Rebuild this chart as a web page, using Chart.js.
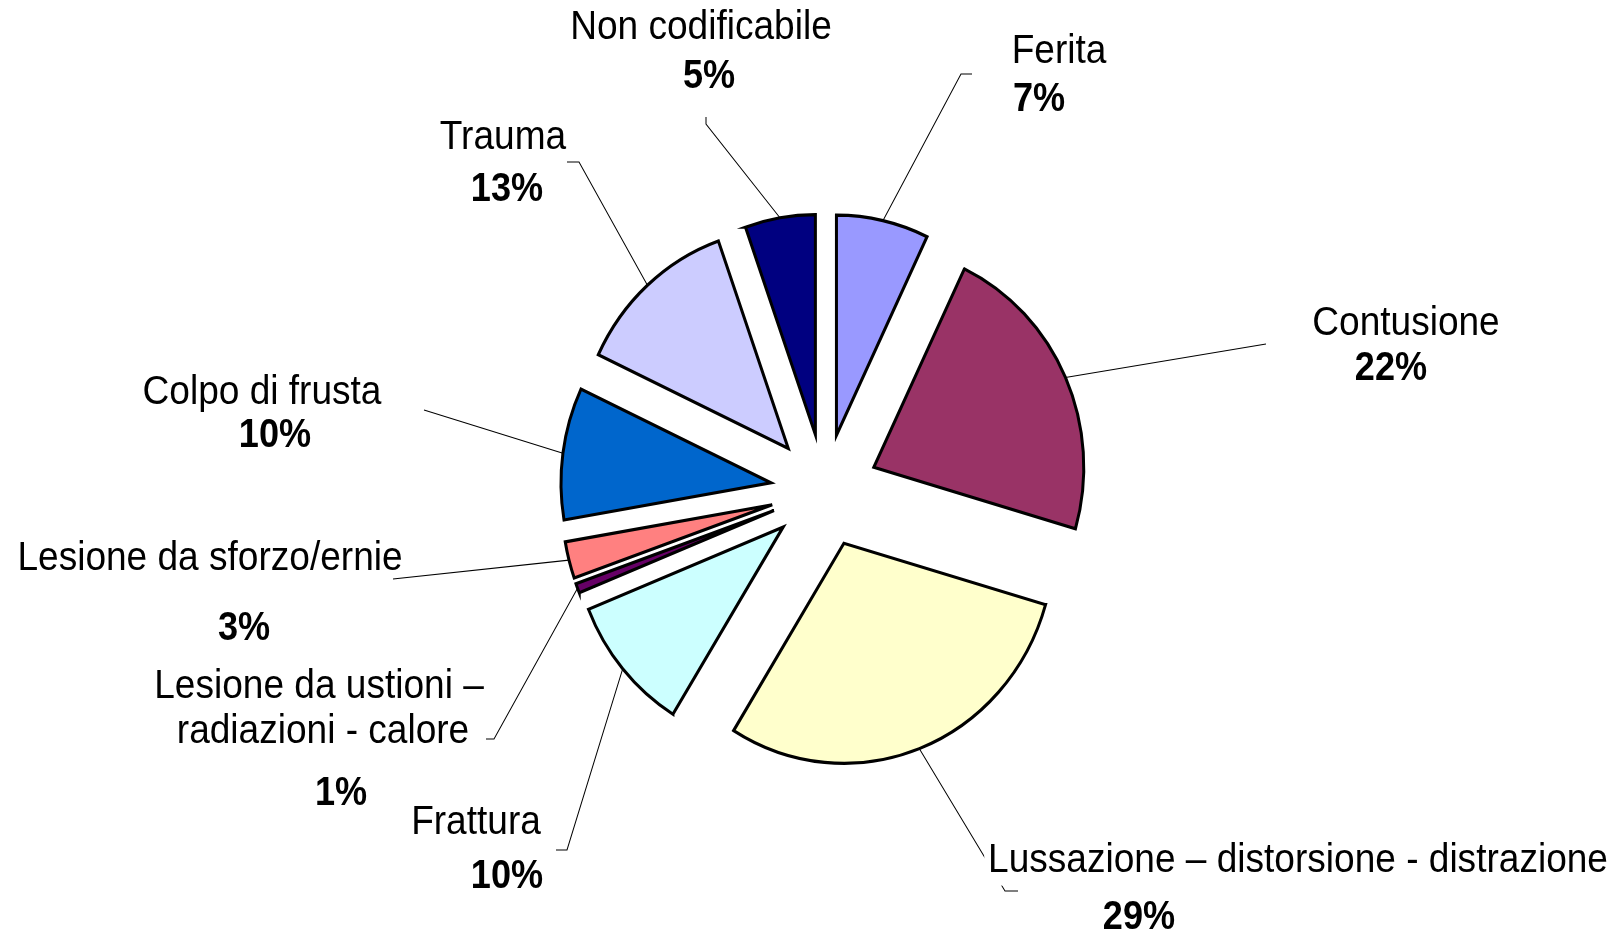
<!DOCTYPE html>
<html lang="it">
<head>
<meta charset="utf-8">
<title>Tipologia di lesione</title>
<script src="https://cdn.jsdelivr.net/npm/chart.js@4.4.1/dist/chart.umd.min.js"></script>
<style>
  html, body { margin: 0; padding: 0; background: #fff; }
  #wrap { width: 1621px; height: 933px; }
  canvas { display: block; }
</style>
</head>
<body>
<div id="wrap"><canvas id="pie" width="1621" height="933"></canvas></div>
<script>
// Slices clockwise from 12 o'clock, as in the original sheet.
const CATEGORIES = [
  "Ferita",
  "Contusione",
  "Lussazione – distorsione - distrazione",
  "Frattura",
  ["Lesione da ustioni –", "radiazioni - calore"],
  "Lesione da sforzo/ernie",
  "Colpo di frusta",
  "Trauma",
  "Non codificabile",
];
// shares; the labels show them rounded
const SHARES = [7.1, 22.4, 29.3, 10.1, 0.7, 2.7, 9.7, 12.6, 5.4];
const COLORS = ["#9999FF", "#993366", "#FFFFCC", "#CCFFFF", "#660066", "#FF8080", "#0066CC", "#CCCCFF", "#000080"];

// The source picture is stretched a bit vertically, text a bit narrow.
const STRETCH = 1.048;
const TEXT_SQUEEZE = 0.95;
const RADIUS = 210;
const EXPLODE = 54;
const FONT = '"Liberation Sans", Arial, sans-serif';
const NAME_SIZE = 39;
const PCT_SIZE = 38;

// Where each label sits (screen px): name line centres, percent centre,
// leader bends after the point on the slice edge.
const LABEL_LAYOUT = [
  { name: [[1059, 48]], pct: [1039, 97], leader: [[961, 74], [972, 74]] },
  { name: [[1406, 320]], pct: [1391, 366], leader: [[1266, 344]] },
  { name: [[1298, 857]], pct: [1139, 915], leader: [[1005, 891], [1018, 891]], mask: true },
  { name: [[476, 819]], pct: [507, 874], leader: [[567, 850], [556, 850]] },
  { name: [[319, 683], [323, 728]], pct: [341, 791], leader: [[494, 739], [486, 739]] },
  { name: [[210, 555]], pct: [244, 626], leader: [[393, 579]] },
  { name: [[262, 389]], pct: [275, 433], leader: [[424, 410]] },
  { name: [[503, 134]], pct: [507, 187], leader: [[579, 162], [567, 162]] },
  { name: [[701, 24]], pct: [709, 74], leader: [[706, 124], [706, 117]] },
];

const stretch = {
  id: "stretch",
  beforeDraw(chart) { chart.ctx.save(); chart.ctx.scale(1, STRETCH); },
  afterDraw(chart) { chart.ctx.restore(); },
};

// push every slice out along its own middle angle
const explode = {
  id: "explode",
  afterDatasetsUpdate(chart) {
    chart.getDatasetMeta(0).data.forEach(arc => {
      const mid = (arc.startAngle + arc.endAngle) / 2;
      arc.x += EXPLODE * Math.cos(mid);
      arc.y += EXPLODE * Math.sin(mid);
    });
  },
};

function drawText(ctx, text, x, y, size, bold, mask) {
  ctx.save();
  ctx.translate(x, y / STRETCH);
  ctx.scale(TEXT_SQUEEZE, 1);
  ctx.font = `${bold ? "bold " : ""}${size}px ${FONT}`;
  if (mask) {
    const w = ctx.measureText(text).width;
    ctx.fillStyle = "#fff";
    ctx.fillRect(-w / 2 - 4, -size * 0.7, w + 8, size * 1.4);
  }
  ctx.fillStyle = "#000";
  ctx.textAlign = "center";
  ctx.textBaseline = "alphabetic";
  ctx.fillText(text, 0, size * 0.358);
  ctx.restore();
}

const pieLabels = {
  id: "pieLabels",
  afterDatasetsDraw(chart) {
    const ctx = chart.ctx;
    const arcs = chart.getDatasetMeta(0).data;
    ctx.save();
    ctx.strokeStyle = "#000";
    ctx.lineWidth = 1;
    arcs.forEach((arc, i) => {
      const mid = (arc.startAngle + arc.endAngle) / 2;
      ctx.beginPath();
      ctx.moveTo(arc.x + arc.outerRadius * Math.cos(mid), arc.y + arc.outerRadius * Math.sin(mid));
      LABEL_LAYOUT[i].leader.forEach(([x, y]) => ctx.lineTo(x, y / STRETCH));
      ctx.stroke();
    });
    arcs.forEach((arc, i) => {
      const lay = LABEL_LAYOUT[i];
      const lines = [].concat(chart.data.labels[i]);
      lines.forEach((t, j) => drawText(ctx, t, lay.name[j][0], lay.name[j][1], NAME_SIZE, false, lay.mask));
      const v = chart.data.datasets[0].data[i];
      drawText(ctx, Math.round(v) + "%", lay.pct[0], lay.pct[1], PCT_SIZE, true, lay.mask);
    });
    ctx.restore();
  },
};

new Chart(document.getElementById("pie"), {
  type: "pie",
  data: {
    labels: CATEGORIES,
    datasets: [{
      data: SHARES,
      backgroundColor: COLORS,
      borderColor: "#000",
      borderWidth: 3,
      borderJoinStyle: "miter",
      clip: false,
    }],
  },
  options: {
    responsive: false,
    animation: false,
    events: [],
    radius: RADIUS,
    layout: { padding: { left: 28, right: 0, top: 3, bottom: 0 } },
    plugins: { legend: { display: false }, tooltip: { enabled: false } },
  },
  plugins: [stretch, explode, pieLabels],
});
</script>
</body>
</html>
